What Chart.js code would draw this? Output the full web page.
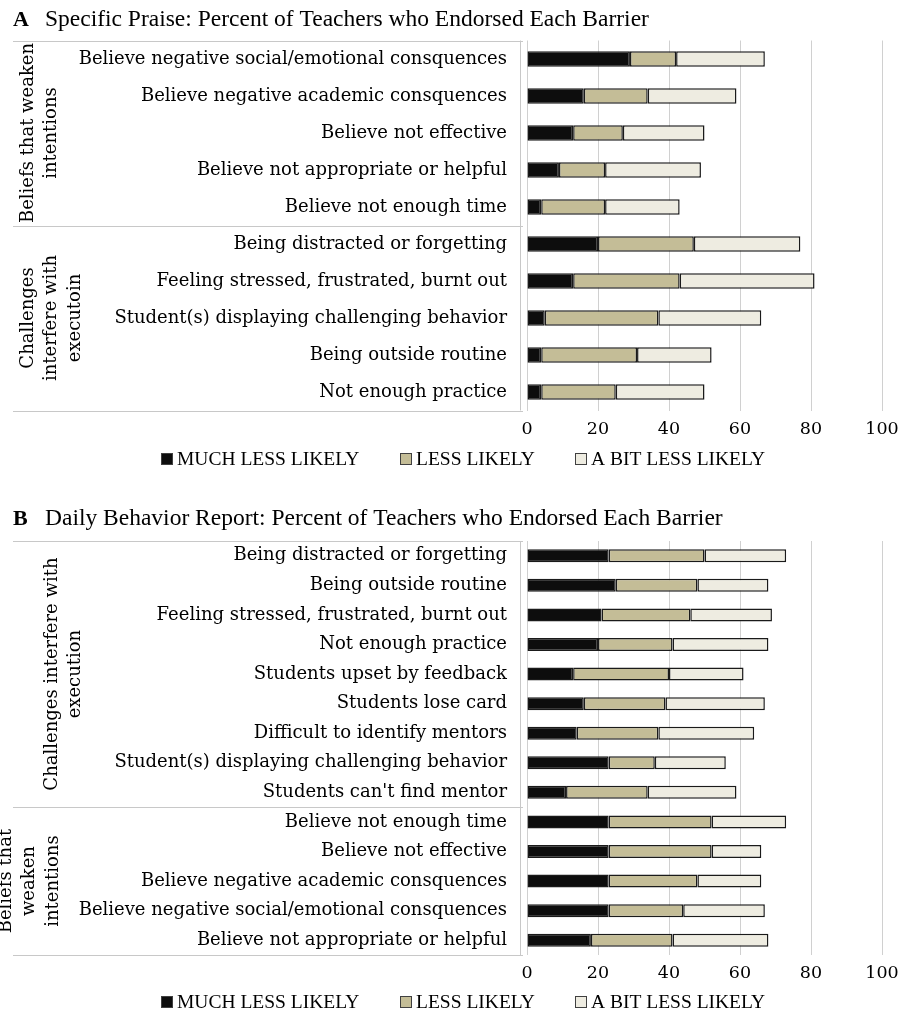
<!DOCTYPE html>
<html>
<head>
    <title>Barriers endorsed by teachers</title>
    <script src="https://cdn.jsdelivr.net/npm/chart.js"></script>
</head>
<style>
    body { margin: 0; background: #fff; }
    .panel { position: absolute; left: 0; width: 914px; }
</style>
<body>
    <div class="panel" style="top: 0; height: 495px;"><canvas id="praiseChart"></canvas></div>
    <div class="panel" style="top: 495px; height: 518px;"><canvas id="dbrChart"></canvas></div>
    <script>
        const seriesNames = ['MUCH LESS LIKELY', 'LESS LIKELY', 'A BIT LESS LIKELY'];
        const seriesColors = ['#0d0d0d', '#c4bd97', '#eeece1'];
        const xTicks = [0, 20, 40, 60, 80, 100];

        // panel A
        const praiseLabels = [
            'Believe negative social/emotional consquences',
            'Believe negative academic consquences',
            'Believe not effective',
            'Believe not appropriate or helpful',
            'Believe not enough time',
            'Being distracted or forgetting',
            'Feeling stressed, frustrated, burnt out',
            'Student(s) displaying challenging behavior',
            'Being outside routine',
            'Not enough practice'
        ];
        const praiseMuch = [29, 16, 13, 9, 4, 20, 13, 5, 4, 4];
        const praiseLess = [13, 18, 14, 13, 18, 27, 30, 32, 27, 21];
        const praiseBit = [25, 25, 23, 27, 21, 30, 38, 29, 21, 25];
        const praiseGroups = [['Beliefs that weaken', 'intentions'], ['Challenges', 'interfere with', 'executoin']];
        const praiseGroupSizes = [5, 5];

        // panel B
        const dbrLabels = [
            'Being distracted or forgetting',
            'Being outside routine',
            'Feeling stressed, frustrated, burnt out',
            'Not enough practice',
            'Students upset by feedback',
            'Students lose card',
            'Difficult to identify mentors',
            'Student(s) displaying challenging behavior',
            "Students can't find mentor",
            'Believe not enough time',
            'Believe not effective',
            'Believe negative academic consquences',
            'Believe negative social/emotional consquences',
            'Believe not appropriate or helpful'
        ];
        const dbrMuch = [23, 25, 21, 20, 13, 16, 14, 23, 11, 23, 23, 23, 23, 18];
        const dbrLess = [27, 23, 25, 21, 27, 23, 23, 13, 23, 29, 29, 25, 21, 23];
        const dbrBit = [23, 20, 23, 27, 21, 28, 27, 20, 25, 21, 14, 18, 23, 27];
        const dbrGroups = [['Challenges interfere with', 'execution'], ['Beliefs that', 'weaken', 'intentions']];
        const dbrGroupSizes = [9, 5];

        const serif = "'Liberation Serif', 'Times New Roman', serif";
        const labelFont = "'DejaVu Serif', serif";

        const decor = {
            id: 'decor',
            afterDraw(chart, args, opts) {
                const ctx = chart.ctx;
                const area = chart.chartArea;
                const y = chart.scales.y;
                ctx.save();

                // panel title
                ctx.fillStyle = '#000';
                ctx.textBaseline = 'middle';
                ctx.textAlign = 'left';
                ctx.font = 'bold 22px ' + serif;
                ctx.fillText(opts.letter, 13, opts.titleY);
                ctx.font = '23.5px ' + serif;
                ctx.fillText(opts.title, 45, opts.titleY);

                // group box
                const half = (y.getPixelForValue(1) - y.getPixelForValue(0)) / 2;
                ctx.strokeStyle = '#c8c8c8';
                ctx.lineWidth = 1;
                let start = 0;
                const bounds = [area.top];
                opts.sizes.forEach(n => {
                    start += n;
                    bounds.push(y.getPixelForValue(start - 1) + half);
                });
                bounds.forEach(b => {
                    ctx.beginPath();
                    ctx.moveTo(13, Math.round(b) + 0.5);
                    ctx.lineTo(523, Math.round(b) + 0.5);
                    ctx.stroke();
                });
                ctx.beginPath();
                ctx.moveTo(520.5, area.top);
                ctx.lineTo(520.5, area.bottom);
                ctx.stroke();

                // group labels, rotated
                ctx.font = '18px ' + labelFont;
                ctx.textAlign = 'center';
                opts.groups.forEach((lines, g) => {
                    const cy = (bounds[g] + bounds[g + 1]) / 2;
                    lines.forEach((line, i) => {
                        ctx.save();
                        ctx.translate(opts.groupX[g] + i * 23.5, cy);
                        ctx.rotate(-Math.PI / 2);
                        ctx.fillText(line, 0, 0);
                        ctx.restore();
                    });
                });

                // legend
                ctx.font = '19.5px ' + serif;
                ctx.textAlign = 'left';
                chart.data.datasets.forEach((ds, i) => {
                    const lx = opts.legendX[i];
                    ctx.fillStyle = ds.backgroundColor;
                    ctx.fillRect(lx, opts.legendY - 6, 12, 12);
                    ctx.strokeStyle = '#404040';
                    ctx.strokeRect(lx + 0.5, opts.legendY - 5.5, 11, 11);
                    ctx.fillStyle = '#000';
                    ctx.fillText(ds.label, lx + 16, opts.legendY + 1);
                });
                ctx.restore();
            }
        };

        function makeChart(id, labels, much, less, bit, groups, sizes, cfg) {
            const values = [much, less, bit];
            return new Chart(document.getElementById(id).getContext('2d'), {
                type: 'bar',
                data: {
                    labels: labels,
                    datasets: seriesNames.map((name, i) => ({
                        label: name,
                        data: values[i],
                        backgroundColor: seriesColors[i],
                        borderColor: '#1a1a1a',
                        borderWidth: 1.5,
                        borderSkipped: false,
                        categoryPercentage: 1,
                        barPercentage: cfg.barPct
                    }))
                },
                options: {
                    indexAxis: 'y',
                    responsive: true,
                    maintainAspectRatio: false,
                    animation: false,
                    layout: {
                        padding: { top: cfg.top, bottom: cfg.bottom, left: 0, right: 32 }
                    },
                    scales: {
                        x: {
                            stacked: true,
                            min: 0,
                            max: 100,
                            afterBuildTicks: function(scale) {
                                scale.ticks = xTicks.map(v => ({ value: v }));
                            },
                            afterFit: function(scale) {
                                scale.height = 30;
                            },
                            grid: { color: '#d0d0d0', drawTicks: false },
                            border: { display: false },
                            ticks: {
                                padding: 8,
                                color: '#000',
                                font: { family: labelFont, size: 17.5 }
                            }
                        },
                        y: {
                            stacked: true,
                            afterFit: function(scale) {
                                scale.width = 527;
                            },
                            grid: { display: false, drawTicks: false },
                            border: { display: false },
                            ticks: {
                                padding: 20,
                                autoSkip: false,
                                color: '#000',
                                font: { family: labelFont, size: 18 }
                            }
                        }
                    },
                    plugins: {
                        legend: { display: false },
                        tooltip: { enabled: false },
                        decor: {
                            letter: cfg.letter,
                            title: cfg.title,
                            titleY: cfg.titleY,
                            groups: groups,
                            sizes: sizes,
                            groupX: cfg.groupX,
                            legendX: [161, 400, 575],
                            legendY: cfg.legendY
                        }
                    }
                },
                plugins: [decor]
            });
        }

        makeChart('praiseChart', praiseLabels, praiseMuch, praiseLess, praiseBit, praiseGroups, praiseGroupSizes, {
            letter: 'A',
            title: 'Specific Praise: Percent of Teachers who Endorsed Each Barrier',
            titleY: 20,
            top: 40.5,
            bottom: 495 - 410.5 - 30,
            barPct: 0.42,
            groupX: [28, 28],
            legendY: 459
        });

        makeChart('dbrChart', dbrLabels, dbrMuch, dbrLess, dbrBit, dbrGroups, dbrGroupSizes, {
            letter: 'B',
            title: 'Daily Behavior Report: Percent of Teachers who Endorsed Each Barrier',
            titleY: 24,
            top: 46,
            bottom: 518 - 460 - 30,
            barPct: 0.44,
            groupX: [52, 6],
            legendY: 507
        });
    </script>
</body>
</html>
